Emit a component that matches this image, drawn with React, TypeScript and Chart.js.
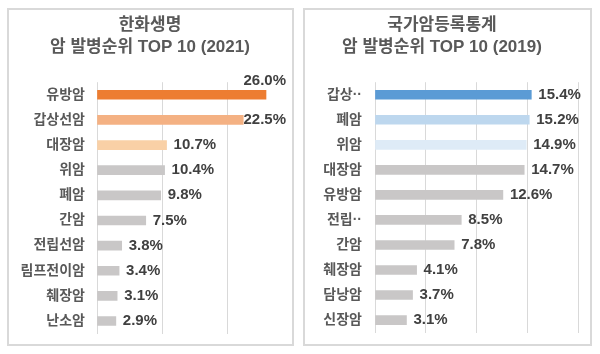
import React, { useEffect, useRef } from "react";
import { Chart, registerables } from "chart.js";
Chart.register(...registerables);

const FONT = "'Liberation Sans', 'Noto Sans CJK KR', 'Noto Sans', sans-serif";
const GRAY = "#C9C7C7";

const leftTitle = ["한화생명", "암 발병순위 TOP 10 (2021)"];
const leftCategories = ["유방암", "갑상선암", "대장암", "위암", "폐암", "간암", "전립선암", "림프전이암", "췌장암", "난소암"];
const leftValues = [26.0, 22.5, 10.7, 10.4, 9.8, 7.5, 3.8, 3.4, 3.1, 2.9];
const leftColors = ["#ED7D31", "#F4B183", "#F9D0A6", GRAY, GRAY, GRAY, GRAY, GRAY, GRAY, GRAY];
const leftMax = 30;
const leftStep = 10;

const rightTitle = ["국가암등록통계", "암 발병순위 TOP 10 (2019)"];
const rightCategories = ["갑상··", "폐암", "위암", "대장암", "유방암", "전립··", "간암", "췌장암", "담낭암", "신장암"];
const rightValues = [15.4, 15.2, 14.9, 14.7, 12.6, 8.5, 7.8, 4.1, 3.7, 3.1];
const rightColors = ["#5B9BD5", "#BDD7EE", "#DEEBF7", GRAY, GRAY, GRAY, GRAY, GRAY, GRAY, GRAY];
const rightMax = 20;
const rightStep = 5;

const valueLabelPlugin = {
  id: "valueLabels",
  afterDatasetsDraw(chart: any, _args: any, opts: any) {
    const ctx = chart.ctx;
    const meta = chart.getDatasetMeta(0);
    const ds = chart.data.datasets[0];
    ctx.save();
    ctx.font = `bold 15px ${FONT}`;
    ctx.fillStyle = "#404040";
    ctx.textBaseline = "middle";
    ctx.textAlign = "left";
    const limit = opts.limit;
    meta.data.forEach((bar: any, i: number) => {
      const text = Number(ds.data[i]).toFixed(1) + "%";
      const w = ctx.measureText(text).width;
      let x = bar.x + 7;
      let y = bar.y;
      if (x + w > limit) {
        x = limit - w;
        if (x < bar.x) y = bar.y - 14;
      }
      ctx.fillText(text, x, y);
    });
    ctx.restore();
  },
};

type PanelProps = {
  title: string[];
  categories: string[];
  values: number[];
  colors: string[];
  max: number;
  step: number;
  left: number;
  width: number;
  axisWidth: number;
  rightPad: number;
  tickPad: number;
  limit: number;
};

function BarPanel(p: PanelProps) {
  const ref = useRef<HTMLCanvasElement>(null);
  useEffect(() => {
    if (!ref.current) return;
    const chart = new Chart(ref.current, {
      type: "bar",
      data: {
        labels: p.categories,
        datasets: [
          {
            data: p.values,
            backgroundColor: p.colors,
            barThickness: 9,
            categoryPercentage: 1,
            barPercentage: 1,
          },
        ],
      },
      options: {
        indexAxis: "y",
        animation: false,
        responsive: false,
        maintainAspectRatio: false,
        layout: { padding: { left: 0, right: p.rightPad, top: 0, bottom: 19 } },
        plugins: {
          legend: { display: false },
          tooltip: { enabled: false },
          title: {
            display: true,
            text: p.title,
            color: "#595959",
            font: { family: FONT, size: 17, weight: "bold", lineHeight: 1.3 },
            padding: { top: 14, bottom: 24 },
          },
          valueLabels: { limit: p.limit },
        } as any,
        scales: {
          x: {
            min: 0,
            max: p.max,
            ticks: { display: false, stepSize: p.step },
            grid: { color: "#D9D9D9", drawTicks: false, lineWidth: 1 },
            border: { display: false },
            afterFit: (s: any) => {
              s.height = 0;
            },
          },
          y: {
            ticks: {
              color: "#595959",
              font: { family: FONT, size: 14, weight: "bold" },
              padding: p.tickPad,
            },
            grid: { display: false, drawTicks: false },
            border: { display: false },
            afterFit: (s: any) => {
              s.width = p.axisWidth;
            },
          },
        },
      } as any,
      plugins: [valueLabelPlugin],
    });
    return () => chart.destroy();
  }, []);
  return (
    <canvas
      ref={ref}
      width={p.width}
      height={354}
      style={{ position: "absolute", left: p.left, top: 0, width: p.width, height: 354, display: "block" }}
    />
  );
}

export default function App() {
  return (
    <div
      style={{
        position: "fixed",
        left: 0,
        top: 0,
        width: 600,
        height: 354,
        background: "#FFFFFF",
        overflow: "hidden",
      }}
    >
      <div
        style={{
          position: "absolute",
          left: 7,
          top: 8,
          width: 287,
          height: 338,
          border: "2px solid #D9D9D9",
          boxSizing: "border-box",
        }}
      />
      <div
        style={{
          position: "absolute",
          left: 303,
          top: 8,
          width: 289,
          height: 338,
          border: "2px solid #D9D9D9",
          boxSizing: "border-box",
        }}
      />
      <BarPanel
        title={leftTitle}
        categories={leftCategories}
        values={leftValues}
        colors={leftColors}
        max={leftMax}
        step={leftStep}
        left={8}
        width={314}
        axisWidth={89}
        rightPad={30}
        tickPad={12}
        limit={278}
      />
      <BarPanel
        title={rightTitle}
        categories={rightCategories}
        values={rightValues}
        colors={rightColors}
        max={rightMax}
        step={rightStep}
        left={306}
        width={294}
        axisWidth={69}
        rightPad={22}
        tickPad={13}
        limit={288}
      />
    </div>
  );
}
